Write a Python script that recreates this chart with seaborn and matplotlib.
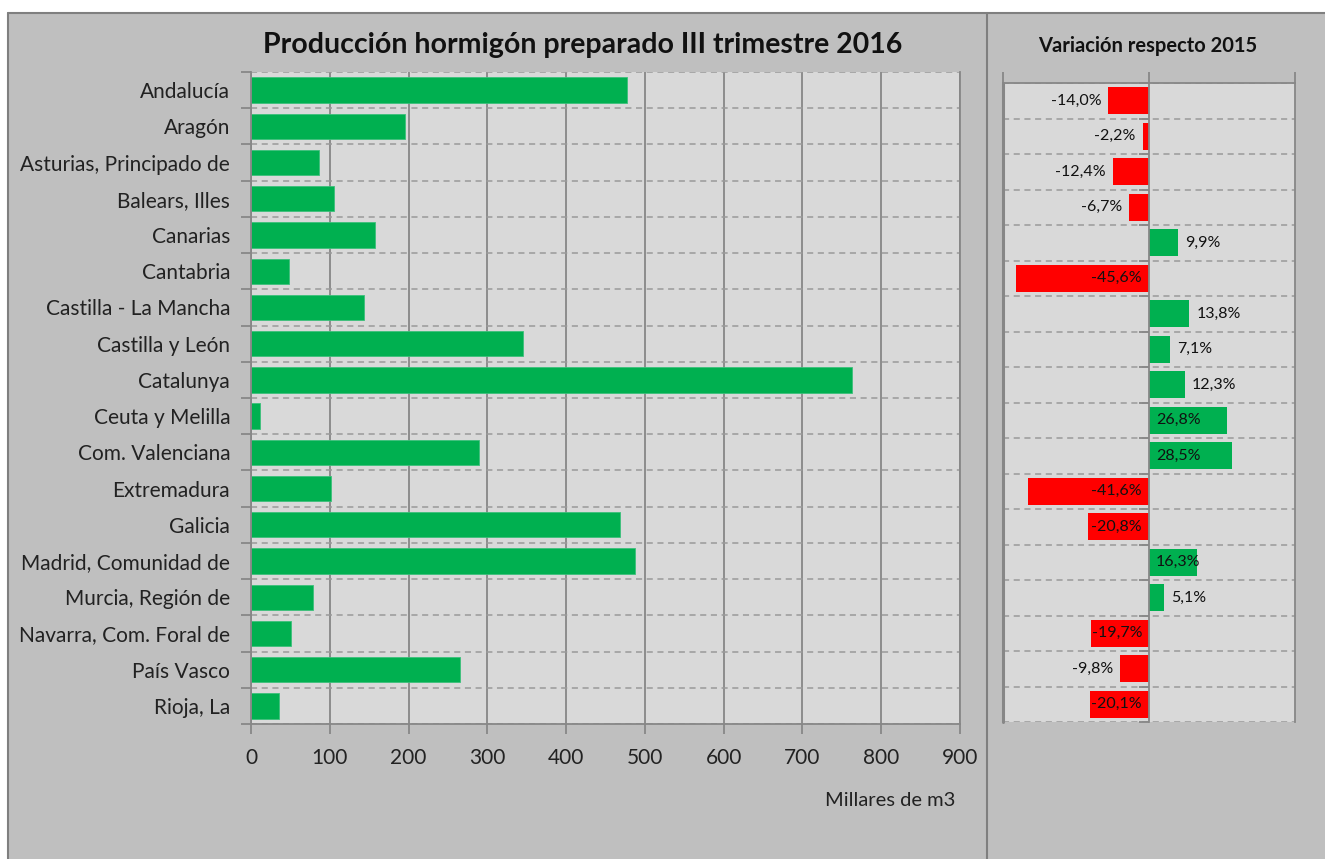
import matplotlib
matplotlib.use("Agg")
import matplotlib.pyplot as plt
import seaborn as sns
import numpy as np
from matplotlib.lines import Line2D
from matplotlib.patches import Rectangle
from matplotlib.ticker import FixedLocator, NullFormatter

# Datos
regiones = [
    "Andalucía", "Aragón", "Asturias, Principado de", "Balears, Illes",
    "Canarias", "Cantabria", "Castilla - La Mancha", "Castilla y León",
    "Catalunya", "Ceuta y Melilla", "Com. Valenciana", "Extremadura",
    "Galicia", "Madrid, Comunidad de", "Murcia, Región de",
    "Navarra, Com. Foral de", "País Vasco", "Rioja, La",
]
produccion = [477, 196, 86, 105, 158, 48, 143, 345, 763, 11, 290, 101, 468, 487, 79, 51, 265, 35]
variacion = [-14.0, -2.2, -12.4, -6.7, 9.9, -45.6, 13.8, 7.1, 12.3, 26.8, 28.5,
             -41.6, -20.8, 16.3, 5.1, -19.7, -9.8, -20.1]
xticks = [0, 100, 200, 300, 400, 500, 600, 700, 800, 900]

titulo = "Producción hormigón preparado III trimestre 2016"
titulo_var = "Variación respecto 2015"
unidad = "Millares de m3"

# Colores
VERDE = "#00B050"
ROJO = "#FF0000"
FONDO = "#BFBFBF"
AREA = "#D9D9D9"
GRIS = "#878787"
BORDE = "#7F7F7F"

W, H = 1325, 859


def caja(x0, y0, x1, y1):
    # pasa coordenadas en pixeles (origen arriba) a coordenadas de figura
    return [x0 / W, 1 - y1 / H, (x1 - x0) / W, (y1 - y0) / H]


sns.set_theme(style="white")
plt.rcParams['font.family'] = ['Lato', 'DejaVu Sans']

fig = plt.figure(figsize=(W / 100, H / 100), dpi=100, facecolor="white")

# fondo gris y marcos
fig.add_artist(Rectangle((8 / W, 0), 1, 1 - 13 / H, transform=fig.transFigure,
                         facecolor=FONDO, edgecolor="none", zorder=-10))
fig.add_artist(Line2D([8 / W, 1], [1 - 13 / H, 1 - 13 / H], color=BORDE, lw=1.5))
fig.add_artist(Line2D([8 / W, 8 / W], [0, 1 - 13 / H], color=BORDE, lw=1.5))
fig.add_artist(Line2D([987 / W, 987 / W], [0, 1 - 13 / H], color=BORDE, lw=1.5))

bordes = np.arange(-0.5, len(regiones), 1)

# ---- Panel izquierdo: producción ----
ax = fig.add_axes(caja(251, 72, 960, 724))
sns.barplot(x=produccion, y=regiones, orient="h", color=VERDE, saturation=1,
            width=0.7, edgecolor="#3CC07A", linewidth=0.6, ax=ax)
ax.set_facecolor(AREA)
ax.set_xlim(0, 900)
ax.set_ylim(len(regiones) - 0.5, -0.5)
ax.set_xticks(xticks)
ax.set_axisbelow(True)
ax.grid(axis="x", color=GRIS, lw=1.3)
ax.yaxis.set_minor_locator(FixedLocator(bordes))
ax.grid(axis="y", which="minor", color="#9A9A9A", lw=1.1, ls=(0, (4, 3)))
ax.tick_params(axis="y", which="major", length=0, labelsize=15, pad=15, labelcolor="#222222")
ax.tick_params(axis="y", which="minor", length=7, width=1.3, color=GRIS, direction="out", left=True)
ax.tick_params(axis="x", length=7, width=1.3, color=GRIS, direction="out", bottom=True,
               labelsize=15, pad=10, labelcolor="#222222")
ax.set_xlabel("")
ax.set_ylabel("")
ax.spines["top"].set_visible(False)
for s in ["left", "bottom", "right"]:
    ax.spines[s].set_color(GRIS)
    ax.spines[s].set_linewidth(1.3)

fig.text(583 / W, 1 - 45 / H, titulo, ha="center", va="center",
         fontsize=20.5, fontweight="bold", color="#111111")
fig.text(955 / W, 1 - 800 / H, unidad, ha="right", va="center",
         fontsize=14.5, color="#222222")

# ---- Panel derecho: variación ----
ax2 = fig.add_axes(caja(1003, 83, 1295, 722))
signo = ["neg" if v < 0 else "pos" for v in variacion]
sns.barplot(x=variacion, y=regiones, hue=signo, palette={"neg": ROJO, "pos": VERDE},
            orient="h", dodge=False, saturation=1, width=0.75, legend=False,
            linewidth=0, ax=ax2)
ax2.set_facecolor(AREA)
ax2.set_xlim(-50, 50)
ax2.set_ylim(len(regiones) - 0.5, -0.5)
ax2.set_axisbelow(True)
ax2.set_xlabel("")
ax2.set_ylabel("")

ax2.spines["left"].set_position(("data", 0))
ax2.spines["bottom"].set_visible(False)
for s in ["left", "top", "right"]:
    ax2.spines[s].set_color(GRIS)
    ax2.spines[s].set_linewidth(1.3)
ax2.axvline(-50, color=GRIS, lw=2.2, clip_on=False)

ax2.yaxis.set_minor_locator(FixedLocator(bordes))
ax2.yaxis.set_minor_formatter(NullFormatter())
ax2.set_yticklabels([])
ax2.grid(axis="y", which="minor", color="#9A9A9A", lw=1.1, ls=(0, (4, 3)))
ax2.tick_params(axis="y", which="major", length=0)
ax2.tick_params(axis="y", which="minor", length=7, width=1.3, color=GRIS, direction="out", left=True)

ax2.xaxis.tick_top()
ax2.set_xticks([-50, 0, 50])
ax2.set_xticklabels([])
ax2.tick_params(axis="x", length=8, width=1.3, color=GRIS, direction="out", top=True)

for i, v in enumerate(variacion):
    txt = f"{v:.1f}%".replace(".", ",")
    if abs(v) < 15:
        pos, dx = v, 5
    else:
        pos, dx = 0, 5
    ax2.annotate(txt, (pos, i), xytext=(-dx if v < 0 else dx, 0), textcoords="offset points",
                 ha="right" if v < 0 else "left", va="center", fontsize=11.5, color="#111111")

fig.text(1148 / W, 1 - 46 / H, titulo_var, ha="center", va="center",
         fontsize=14.5, fontweight="bold", color="#111111")

fig.savefig("out.png", dpi=100, facecolor=fig.get_facecolor())
